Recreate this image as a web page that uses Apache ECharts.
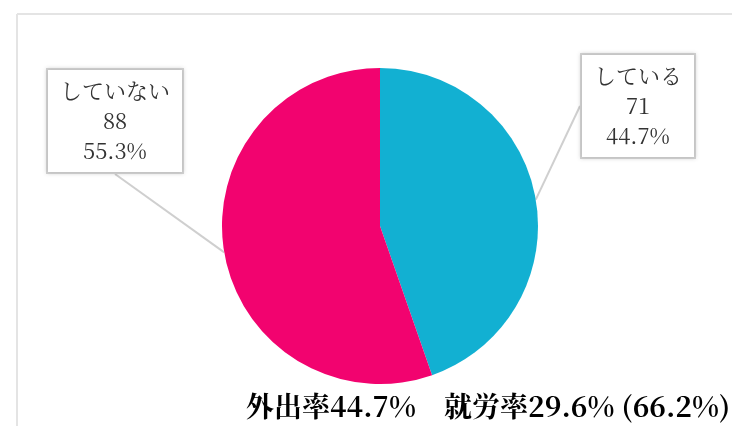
<!DOCTYPE html>
<html>
<head>
<meta charset="utf-8">
<script src="https://cdn.jsdelivr.net/npm/echarts@6/dist/echarts.min.js"></script>
<style>
html,body{margin:0;padding:0;background:#fff;}
#chart{width:732px;height:426px;}
</style>
</head>
<body>
<div id="chart"></div>
<script>
var categories = ['している', 'していない'];
var values = [71, 88];
var colors = ['#12b0d2', '#f2036f'];
var footerText = '外出率44.7%　就労率29.6% (66.2%)';

var serif = '"Noto Serif CJK JP", "Liberation Serif", "DejaVu Serif", "Noto Sans CJK JP", serif';

var labelPos = [
  {x: 638, y: 106},
  {x: 115, y: 121}
];

var chart = echarts.init(document.getElementById('chart'));
chart.setOption({
  animation: false,
  backgroundColor: '#ffffff',
  title: {
    text: footerText,
    left: 241,
    top: 387,
    textStyle: {
      fontFamily: serif,
      fontSize: 28,
      fontWeight: 'bold',
      color: '#000000'
    }
  },
  graphic: [
    {type: 'line', shape: {x1: 17, y1: 14, x2: 732, y2: 14}, style: {stroke: '#e4e4e4', lineWidth: 2}, z: -1},
    {type: 'line', shape: {x1: 17, y1: 14, x2: 17, y2: 426}, style: {stroke: '#e4e4e4', lineWidth: 2}, z: -1}
  ],
  series: [{
    type: 'pie',
    center: [380, 226],
    radius: 158,
    startAngle: 90,
    clockwise: true,
    percentPrecision: 1,
    data: categories.map(function (c, i) {
      return {name: c, value: values[i], itemStyle: {color: colors[i]}};
    }),
    label: {
      show: true,
      formatter: '{b}\n{c}\n{d}%',
      fontFamily: serif,
      fontSize: 22,
      lineHeight: 30,
      color: '#333333',
      align: 'center',
      backgroundColor: '#ffffff',
      borderColor: '#cfcfcf',
      borderWidth: 2,
      padding: [6, 12, 6, 12],
      shadowColor: 'rgba(0,0,0,0.12)',
      shadowBlur: 4
    },
    labelLine: {
      show: true,
      length: 20,
      length2: 0,
      lineStyle: {color: '#cfcfcf', width: 2}
    },
    labelLayout: function (params) {
      var p = labelPos[params.dataIndex];
      return {x: p.x, y: p.y, align: 'center', verticalAlign: 'middle'};
    }
  }]
});
</script>
</body>
</html>
